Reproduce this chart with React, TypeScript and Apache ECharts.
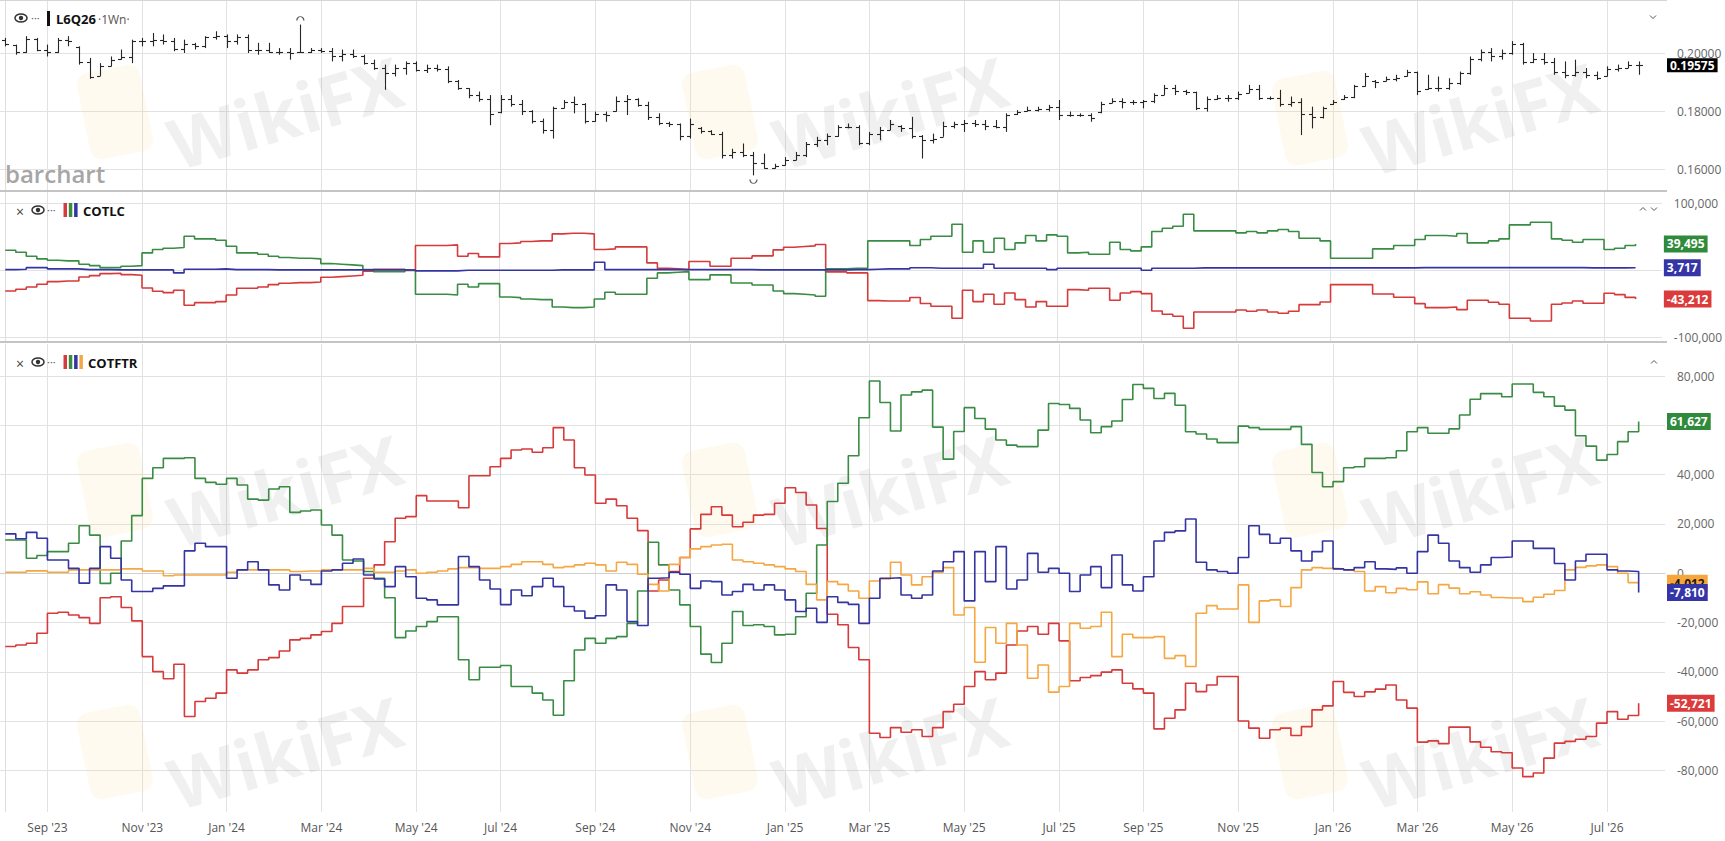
import React, { useEffect, useRef } from "react";
import * as echarts from "echarts";

const FONT = "'Open Sans', 'Noto Sans', 'DejaVu Sans', sans-serif";
const W = 1725;
const H = 841;

// ---------- categories: weekly bars (Mondays) ----------
const FIRST_WEEK = "2023-08-07";
const WEEK_COUNT = 158; // 156 bars + 2 empty weeks on the right
const MONTH_NAMES = ["Jan", "Feb", "Mar", "Apr", "May", "Jun", "Jul", "Aug", "Sep", "Oct", "Nov", "Dec"];
const weeks: string[] = Array.from({ length: WEEK_COUNT }, (_, i) => {
  const d = new Date(Date.parse(FIRST_WEEK + "T00:00:00Z") + i * 7 * 86400000);
  return d.toISOString().slice(0, 10);
});
// first week of every second month -> gridline + label
const monthTickIdx: number[] = [];
const monthTickLabel: Record<number, string> = {};
weeks.forEach((w, i) => {
  const [y, m, d] = w.split("-").map(Number);
  if (d <= 7 && (m - 1) % 2 === 0) {
    monthTickIdx.push(i);
    monthTickLabel[i] = `${MONTH_NAMES[m - 1]} '${String(y).slice(2)}`;
  }
});

// ---------- L6Q26 weekly OHLC ----------
const opens = [
  0.2045, 0.2028, 0.2002, 0.2050, 0.2012, 0.2005, 0.2046, 0.2020, 0.1970, 0.1922,
  0.1955, 0.1978, 0.1985, 0.2040, 0.2040, 0.2045, 0.2040, 0.2015, 0.2030, 0.2025,
  0.2055, 0.2060, 0.2040, 0.2055, 0.2010, 0.2010, 0.2005, 0.2005, 0.2002, 0.2005,
  0.2010, 0.2008, 0.1990, 0.1995, 0.1990, 0.1965, 0.1950, 0.1930, 0.1950, 0.1965,
  0.1940, 0.1950, 0.1945, 0.1905, 0.1878, 0.1855, 0.1840, 0.1795, 0.1840, 0.1825,
  0.1800, 0.1765, 0.1735, 0.1810, 0.1830, 0.1825, 0.1765, 0.1790, 0.1800, 0.1835,
  0.1840, 0.1820, 0.1780, 0.1760, 0.1755, 0.1715, 0.1742, 0.1730, 0.1722, 0.1650,
  0.1660, 0.1650, 0.1620, 0.1605, 0.1614, 0.1632, 0.1650, 0.1685, 0.1700, 0.1715,
  0.1745, 0.1745, 0.1690, 0.1720, 0.1735, 0.1750, 0.1740, 0.1715, 0.1700, 0.1712,
  0.1750, 0.1755, 0.1760, 0.1755, 0.1750, 0.1745, 0.1788, 0.1800, 0.1805, 0.1808,
  0.1815, 0.1785, 0.1785, 0.1785, 0.1795, 0.1828, 0.1835, 0.1830, 0.1830, 0.1835,
  0.1855, 0.1880, 0.1870, 0.1865, 0.1810, 0.1840, 0.1845, 0.1845, 0.1863, 0.1875,
  0.1845, 0.1845, 0.1825, 0.1830, 0.1790, 0.1780, 0.1823, 0.1840, 0.1850, 0.1885,
  0.1905, 0.1903, 0.1910, 0.1920, 0.1935, 0.1875, 0.1880, 0.1880, 0.1895, 0.1930,
  0.1980, 0.2005, 0.1990, 0.2000, 0.2030, 0.1970, 0.1980, 0.1970, 0.1935, 0.1925,
  0.1935, 0.1925, 0.1922, 0.1945, 0.1950, 0.1960,
];
const highs = [
  0.2052, 0.2029, 0.2058, 0.2052, 0.2029, 0.2052, 0.2058, 0.2023, 0.1983, 0.1965,
  0.1988, 0.2012, 0.2046, 0.2052, 0.2069, 0.2064, 0.2052, 0.2046, 0.2035, 0.2058,
  0.2075, 0.2064, 0.2064, 0.2064, 0.2035, 0.2035, 0.2017, 0.2017, 0.2098, 0.2017,
  0.2017, 0.2017, 0.2012, 0.2012, 0.1994, 0.1977, 0.1960, 0.1960, 0.1971, 0.1971,
  0.1960, 0.1960, 0.1954, 0.1907, 0.1879, 0.1867, 0.1855, 0.1855, 0.1855, 0.1838,
  0.1803, 0.1774, 0.1815, 0.1838, 0.1850, 0.1827, 0.1798, 0.1798, 0.1850, 0.1855,
  0.1844, 0.1832, 0.1792, 0.1763, 0.1757, 0.1774, 0.1745, 0.1734, 0.1728, 0.1670,
  0.1688, 0.1659, 0.1653, 0.1618, 0.1641, 0.1659, 0.1693, 0.1711, 0.1722, 0.1751,
  0.1757, 0.1751, 0.1728, 0.1745, 0.1769, 0.1751, 0.1780, 0.1717, 0.1722, 0.1763,
  0.1763, 0.1769, 0.1769, 0.1769, 0.1769, 0.1792, 0.1803, 0.1815, 0.1815, 0.1821,
  0.1838, 0.1798, 0.1792, 0.1792, 0.1832, 0.1844, 0.1844, 0.1838, 0.1838, 0.1861,
  0.1890, 0.1890, 0.1873, 0.1867, 0.1850, 0.1855, 0.1855, 0.1867, 0.1890, 0.1890,
  0.1850, 0.1873, 0.1850, 0.1844, 0.1815, 0.1815, 0.1838, 0.1855, 0.1890, 0.1931,
  0.1907, 0.1919, 0.1925, 0.1942, 0.1936, 0.1925, 0.1919, 0.1913, 0.1936, 0.1988,
  0.2012, 0.2017, 0.2012, 0.2041, 0.2035, 0.2000, 0.2000, 0.1983, 0.1971, 0.1977,
  0.1948, 0.1936, 0.1954, 0.1960, 0.1971, 0.1971,
];
const lows = [
  0.2023, 0.1994, 0.2000, 0.2006, 0.1988, 0.2000, 0.2023, 0.1960, 0.1911, 0.1921,
  0.1954, 0.1977, 0.1965, 0.2023, 0.2023, 0.2029, 0.2006, 0.2000, 0.2012, 0.2017,
  0.2046, 0.2017, 0.2029, 0.2000, 0.1994, 0.2000, 0.1994, 0.1977, 0.2000, 0.2000,
  0.2000, 0.1971, 0.1971, 0.1983, 0.1960, 0.1942, 0.1873, 0.1919, 0.1925, 0.1936,
  0.1931, 0.1936, 0.1896, 0.1873, 0.1844, 0.1832, 0.1751, 0.1792, 0.1815, 0.1786,
  0.1757, 0.1722, 0.1705, 0.1809, 0.1792, 0.1757, 0.1763, 0.1763, 0.1798, 0.1786,
  0.1815, 0.1769, 0.1751, 0.1745, 0.1699, 0.1705, 0.1722, 0.1717, 0.1636, 0.1636,
  0.1641, 0.1578, 0.1601, 0.1601, 0.1612, 0.1630, 0.1641, 0.1676, 0.1682, 0.1711,
  0.1740, 0.1682, 0.1682, 0.1699, 0.1734, 0.1728, 0.1705, 0.1636, 0.1688, 0.1711,
  0.1740, 0.1728, 0.1745, 0.1734, 0.1740, 0.1728, 0.1786, 0.1798, 0.1798, 0.1798,
  0.1769, 0.1780, 0.1780, 0.1763, 0.1792, 0.1827, 0.1809, 0.1821, 0.1809, 0.1827,
  0.1855, 0.1855, 0.1855, 0.1803, 0.1798, 0.1838, 0.1832, 0.1838, 0.1861, 0.1838,
  0.1838, 0.1815, 0.1815, 0.1717, 0.1740, 0.1774, 0.1821, 0.1838, 0.1844, 0.1884,
  0.1879, 0.1902, 0.1902, 0.1919, 0.1855, 0.1873, 0.1867, 0.1873, 0.1890, 0.1925,
  0.1971, 0.1971, 0.1977, 0.1994, 0.1960, 0.1965, 0.1960, 0.1925, 0.1913, 0.1919,
  0.1913, 0.1907, 0.1919, 0.1936, 0.1948, 0.1925,
];
const closes = [
  0.2030, 0.2002, 0.2050, 0.2012, 0.2005, 0.2046, 0.2040, 0.1970, 0.1918, 0.1955,
  0.1975, 0.1985, 0.2040, 0.2040, 0.2045, 0.2040, 0.2015, 0.2030, 0.2025, 0.2055,
  0.2060, 0.2040, 0.2055, 0.2010, 0.2010, 0.2005, 0.2005, 0.2000, 0.2005, 0.2010,
  0.2008, 0.1990, 0.1995, 0.1990, 0.1965, 0.1950, 0.1930, 0.1950, 0.1965, 0.1940,
  0.1950, 0.1945, 0.1905, 0.1880, 0.1855, 0.1840, 0.1790, 0.1840, 0.1825, 0.1800,
  0.1765, 0.1735, 0.1810, 0.1830, 0.1825, 0.1765, 0.1790, 0.1785, 0.1835, 0.1840,
  0.1820, 0.1780, 0.1760, 0.1755, 0.1715, 0.1755, 0.1730, 0.1722, 0.1650, 0.1660,
  0.1650, 0.1620, 0.1605, 0.1612, 0.1630, 0.1650, 0.1685, 0.1700, 0.1715, 0.1745,
  0.1745, 0.1690, 0.1720, 0.1735, 0.1755, 0.1740, 0.1715, 0.1700, 0.1705, 0.1750,
  0.1755, 0.1760, 0.1755, 0.1750, 0.1745, 0.1785, 0.1795, 0.1805, 0.1808, 0.1815,
  0.1785, 0.1785, 0.1785, 0.1775, 0.1825, 0.1835, 0.1830, 0.1830, 0.1835, 0.1855,
  0.1880, 0.1870, 0.1865, 0.1810, 0.1840, 0.1845, 0.1845, 0.1860, 0.1875, 0.1845,
  0.1845, 0.1825, 0.1830, 0.1790, 0.1780, 0.1810, 0.1830, 0.1850, 0.1885, 0.1920,
  0.1900, 0.1910, 0.1915, 0.1935, 0.1870, 0.1880, 0.1880, 0.1895, 0.1930, 0.1980,
  0.2005, 0.1990, 0.2000, 0.2030, 0.1970, 0.1980, 0.1970, 0.1935, 0.1925, 0.1935,
  0.1925, 0.1915, 0.1945, 0.1950, 0.1960, 0.19575,
];
const priceTicks = [0.16, 0.18, 0.2];

// ---------- COTLC (net positions, thousands of contracts) ----------
const cotlcGreen = [
  30, 27, 21, 17, 15, 14, 14, 9, 7, 4,
  4, 6, 7, 26, 31, 33, 34, 51, 47, 47,
  45, 36, 26, 26, 24, 21, 19, 18, 18, 17,
  10, 9, 8, 7, 1, -2, -2, -2, 0, -36,
  -36, -36, -37, -21, -25, -20, -20, -40, -41, -43,
  -44, -44, -55, -56, -56, -55, -43, -33, -36, -36,
  -36, -12, -4, -3, -2, -14, -14, -7, -7, -19,
  -19, -22, -22, -31, -35, -36, -37, -39, 2, 2,
  3, 3, 44, 44, 44, 44, 37, 46, 51, 51,
  69, 27, 44, 27, 48, 31, 41, 52, 44, 53,
  51, 26, 27, 24, 24, 42, 31, 29, 35, 58,
  63, 66, 84, 59, 59, 59, 59, 56, 58, 56,
  59, 61, 58, 48, 48, 44, 18, 18, 18, 18,
  32, 32, 37, 37, 46, 52, 52, 51, 55, 41,
  41, 44, 47, 68, 68, 72, 72, 47, 45, 42,
  46, 46, 31, 33, 37, 39.495,
];
const cotlcBlue = [
  1, 1.5, 4, 4, 2, 2, 2, 1, 1, 1,
  0.5, 0.5, 0.5, 0.5, 0.5, 0.5, -4, 1.5, 1.5, 1.5,
  2, 1, 1, 1, 1, 0.5, 0.5, 0.5, 0.5, 0.5,
  0.5, 0.5, 0.5, 0.5, 0.5, 0.5, 0.5, 0.5, 0.3, -1,
  -1, -1, -1, 0, 0, 0, 0, 0, 0, 0,
  0, 0, 0.5, 0.5, 0.5, 0.5, 12, 1, 1, 1,
  1, 1, 1, 1, 1, 1, 1, 1, 1, 1,
  1, 0.5, 0.5, 0.5, 0.5, 0.5, 0.5, 0.5, 0.5, 0.5,
  1, 1, 1.5, 2, 2, 2, 3.8, 3.8, 3, 3,
  3, 3, 3, 9, 3, 3, 3, 3, 3, 1,
  3, 3, 3, 3, 3, 3, 3, 3, 0, 3,
  3, 3, 3, 3.5, 3.5, 3.5, 3.5, 3.5, 3.5, 3.5,
  3.5, 3.5, 3.5, 3.5, 3.5, 3.5, 3.5, 3.5, 3.5, 3.5,
  3.5, 3.5, 3.5, 3.5, 4, 4, 4, 4, 4, 4,
  4, 4, 4, 4, 4, 4, 4, 4, 4, 4,
  3.5, 3.5, 3.5, 3.5, 3.7, 3.717,
];
const cotlcRed = [
  -31, -28.5, -25, -21, -17, -16, -16, -10, -8, -5,
  -4.5, -6.5, -7.5, -26.5, -31.5, -33.5, -30, -52.5, -48.5, -48.5,
  -47, -37, -27, -27, -25, -21.5, -19.5, -18.5, -18.5, -17.5,
  -10.5, -9.5, -8.5, -7.5, -1.5, 1.5, 1.5, 1.5, -0.3, 37,
  37, 37, 38, 21, 25, 20, 20, 40, 41, 43,
  44, 44, 54.5, 55.5, 55.5, 54.5, 31, 32, 35, 35,
  35, 11, 3, 2, 1, 13, 13, 6, 6, 18,
  18, 21.5, 21.5, 30.5, 34.5, 35.5, 36.5, 38.5, -2.5, -2.5,
  -4, -4, -45.5, -46, -46, -46, -40.8, -49.8, -54, -54,
  -72, -30, -47, -36, -51, -34, -44, -55, -47, -54,
  -54, -29, -30, -27, -27, -45, -34, -32, -35, -61,
  -66, -69, -87, -62.5, -62.5, -62.5, -62.5, -59.5, -61.5, -59.5,
  -62.5, -64.5, -61.5, -51.5, -51.5, -47.5, -21.5, -21.5, -21.5, -21.5,
  -35.5, -35.5, -40.5, -40.5, -50, -56, -56, -55, -59, -45,
  -45, -48, -51, -72, -72, -76, -76, -51, -49, -46,
  -49.5, -49.5, -34.5, -36.5, -40.7, -43.212,
];
const cotlcTicks = [-100000, 0, 100000];
const cotlcLabels = [-100000, 100000];

// ---------- COTFTR (net positions, thousands of contracts) ----------
const ftrRed = [
  -29.7, -29.1, -28.4, -24.3, -16.2, -15.8, -16.9, -18, -20.3, -9.9,
  -9.5, -13.9, -19.3, -33.8, -39.9, -42.8, -36.9, -58.1, -52, -50.7,
  -48.6, -39.2, -40.5, -39.2, -35.1, -34.2, -31.5, -27, -26.4, -25,
  -23.6, -20.3, -13.5, -13.5, -2, 3.4, 12.8, 22.3, 23, 31.5,
  29.3, 29.3, 29.3, 26.6, 39.6, 39.6, 43.2, 46.6, 50, 50.4,
  49.1, 50.9, 59.1, 54.1, 42.8, 39.9, 28.4, 30.1, 27.4, 22.3,
  17.3, -7.2, -2.7, 0.7, 6.4, 18, 23.9, 27, 23.6, 18.9,
  20.7, 23.6, 23.9, 28.4, 34.7, 32.8, 27.7, 18.2, -16.6, -20.9,
  -30.1, -35.1, -64.9, -66.6, -62.6, -64.5, -63.5, -66.2, -62.6, -56.1,
  -53.1, -45.9, -39.9, -43.2, -40.5, -29.1, -23.4, -21.6, -24.7, -20.3,
  -27.4, -43.6, -42.3, -41.5, -40.1, -39.2, -44.6, -46.9, -48.6, -63.1,
  -58.8, -55.4, -44.6, -48, -45.3, -41.9, -41.9, -59.9, -62.8, -66.9,
  -63.5, -62.8, -65.8, -62.2, -55.4, -53.8, -43.9, -48.3, -50, -48.1,
  -47, -45.3, -51.4, -54.7, -68.5, -68, -69.1, -62.4, -62.4, -68.4,
  -70.6, -72.4, -72.8, -79, -82.5, -81, -75, -68.9, -68.2, -67.3,
  -66.2, -60.8, -56.1, -59.2, -57.7, -52.721,
];
const ftrGreen = [
  13.5, 13.5, 6.1, 7.2, 8.8, 8.8, 12.2, 19.3, 15.5, -4.1,
  0, 13.1, 23.4, 38.5, 42.8, 46.6, 46.6, 46.9, 38.5, 36.9,
  36.1, 38.5, 35.8, 30.1, 29.7, 34.2, 35.1, 24.7, 25.3, 25.7,
  19.6, 15.5, 5.4, 5, 0.7, -2, -9.9, -26.1, -23.4, -21.6,
  -19.6, -17.6, -17.6, -35.1, -43.2, -38.1, -38.1, -37.4, -45.9, -45.9,
  -48.6, -51.4, -57.6, -43.6, -31.1, -26.4, -28.4, -26.4, -25.7, -20.3,
  -7.2, 12.6, 3.4, -6.8, -12.8, -21.6, -32.8, -36.2, -28.4, -15.5,
  -21.2, -20.9, -21.6, -25, -24.7, -17.6, -8.1, 11.5, 29.1, 36.5,
  47.7, 63.1, 78, 69.3, 57.7, 72.3, 73.6, 74.3, 59.3, 46.3,
  57.5, 67.2, 62.8, 58.5, 54.1, 52, 51.4, 51.4, 58.1, 68.9,
  68.5, 66.9, 62.2, 57, 59.5, 61.8, 70.5, 76.6, 75, 70.9,
  73, 68.2, 57.4, 56.5, 54.5, 53, 53, 59.7, 59.1, 58.4,
  58.4, 58.4, 59.5, 52.3, 40.9, 35.1, 37.2, 42.8, 43.2, 46.6,
  46.6, 46.9, 49.7, 57.4, 59.1, 56.8, 56.8, 58.6, 64.2, 70.6,
  72.9, 72.9, 71.6, 76.8, 76.8, 73.4, 71.6, 67.8, 66.2, 55.8,
  51.6, 45.9, 48.2, 53.4, 57.4, 61.627,
];
const ftrBlue = [
  16, 14, 16.6, 14.2, 5.4, 5.4, 2, -4, 2, 10.8,
  6.1, -2.7, -7.4, -7.4, -6.1, -5.1, -5.1, 9.1, 12.2, 10.8,
  10.8, -2, 1.4, 4.7, 1.4, -4.7, -6.8, -0.7, -2.7, -4.5,
  0.9, 1.4, 4.1, 5.8, -0.7, -2.3, -5.4, 2.7, -1.4, -10.1,
  -10.8, -12.8, -12.8, 6.8, 2.7, -2.7, -6.4, -12.7, -6.8, -9.1,
  -5.4, -2, -5.4, -13.5, -15.3, -18.2, -17.2, -4.7, -6.8, -19.6,
  -21.2, -2, -1.8, 0.4, -0.4, -6.1, -3.1, -3.4, -8.8, -7.4,
  -4.5, -6.8, -4.7, -6.8, -10.8, -15.5, -14.2, -19.9, -9.5, -11.8,
  -12.6, -20.3, -10.1, -2, -1.8, -8.8, -10.1, -8.8, 0.9, 4.7,
  8.8, -11.2, 8.8, -3.4, 10.8, -6.4, -2.7, 8.1, 0.4, 2,
  0, -7.4, -0.7, 2.7, -5.8, 7.4, -4.7, -7.2, -1.4, 13.1,
  16.6, 17.2, 22, 4.5, 1.4, 0.7, 0, 6.4, 19.3, 15.8,
  12.2, 14.2, 9.1, 5, 8.8, 13.1, 1.8, 1.4, 2.3, 4.7,
  1.8, 1.6, 2.2, 0, 8.8, 15.5, 12.2, 5, 2.3, 0.4,
  3.4, 6.4, 6.6, 13.1, 13.1, 10.1, 10.1, 4, -2.7, 5,
  7.7, 7.7, 1.4, 0.9, 0.7, -7.81,
];
const ftrOrange = [
  0.4, 0.4, 1, 1, 0.4, 0.4, 1.4, 1.4, 1.4, 1.4,
  1.4, 1.8, 1.8, 0.9, 0.9, -1, -0.7, -0.7, -0.7, -0.7,
  -0.7, 0.4, 1.4, 1.4, 1.4, 1.4, 1.4, 0.7, 0.9, 0.9,
  1.4, 1.4, 1.4, 1.4, 2, 0.4, 0.4, 0.9, 1.4, 0,
  0.4, 0.9, 1.8, 2.3, 2.3, 2, 2, 2.7, 3.6, 4.7,
  4.7, 3.6, 2.3, 2.7, 3.4, 4.1, 3.4, 0.9, 4.5, 3.6,
  -0.4, -4.5, -7.2, 3.6, 6.4, 9.9, 10.8, 11.5, 11.8, 5.4,
  4.7, 4.1, 3.4, 2.7, 1.8, 0.7, -4.5, -10.8, -3.4, -4.5,
  -7.2, -10.1, -3.1, -2.3, 4.5, -0.7, -4.7, -1.4, 0.4, 2.3,
  -16.9, -13.9, -36.1, -22, -28.4, -20.3, -29.1, -42.6, -37.2, -48.2,
  -45.9, -20.3, -22.3, -21.6, -15.8, -33.8, -24.7, -26.1, -26.1, -25.7,
  -34.5, -33.4, -37.8, -16.2, -13.1, -14.5, -14.5, -4.7, -19.9, -11.2,
  -10.8, -13.5, -5.8, 1.4, 2.3, 2, 1.8, 1.4, 0.7, -7.2,
  -5.4, -7.9, -6.1, -6.7, -3.5, -8.3, -4.6, -6, -8.3, -7.5,
  -8.8, -9.8, -10, -10, -11.5, -9.7, -8.5, -7, 1.4, 2.4,
  3, 3.4, 2.7, 0, -3.8, -4.012,
];
const ftrTicks = [-80000, -60000, -40000, -20000, 0, 20000, 40000, 60000, 80000];
// the 60,000 label sits under the Asset-Manager value tag in the reference
const ftrLabels = [-80000, -60000, -40000, -20000, 0, 20000, 40000, 80000];

// ---------- colours ----------
const C_GREEN = "#3a8c44";
const C_RED = "#d63a3a";
const C_BLUE = "#3434a2";
const C_ORANGE = "#f5a742";
const TAG_GREEN = "#2f8a3b";
const TAG_RED = "#dc3b3b";
const TAG_BLUE = "#3535a8";
const TAG_ORANGE = "#f7a63c";
const GRID_LINE = "#e2e2e2";

// ---------- panel geometry ----------
const PLOT_RIGHT = 60;
const PRICE_MIN = 0.152759;
const PRICE_MAX = 0.218276;
const LC_MIN = -105990;
const LC_MAX = 117230;
const FTR_MIN = -96840;
const FTR_MAX = 93020;

const fmtNum = (v: number) => Math.round(v).toLocaleString("en-US");
const toPairs = (arr: number[]) => arr.map((v, i) => [i, Math.round(v * 1000)]);
const lastK = (arr: number[]) => Math.round(arr[arr.length - 1] * 1000);

function endTag(value: number, bg: string, fg: string, text: string, compact = false) {
  return {
    symbol: "rect",
    symbolSize: 1,
    silent: true,
    itemStyle: { color: "rgba(0,0,0,0)" },
    label: {
      show: true,
      position: "right",
      distance: 1.5,
      formatter: text,
      backgroundColor: bg,
      color: fg,
      fontWeight: "bold",
      fontSize: 12,
      fontFamily: FONT,
      padding: compact ? [2, 3, 1, 3] : [3, 3, 2, 3],
      lineHeight: compact ? 11 : 12,
    },
    data: [{ coord: [WEEK_COUNT - 0.5, value] }],
  };
}

function xAxisFor(gridIndex: number, withLabels: boolean) {
  return {
    type: "value",
    gridIndex,
    min: -0.5,
    max: WEEK_COUNT - 0.5,
    axisLine: { show: withLabels, lineStyle: { color: "#cfcfcf" } },
    axisTick: { show: false, customValues: monthTickIdx },
    axisLabel: withLabels
      ? {
          show: true,
          customValues: monthTickIdx,
          formatter: (v: number) => monthTickLabel[Math.round(v)] || "",
          color: "#555",
          fontSize: 12,
          fontFamily: FONT,
          margin: 9,
        }
      : { show: false },
    splitLine: { show: true, lineStyle: { color: GRID_LINE, width: 1 } },
  };
}

function yAxisFor(gridIndex: number, min: number, max: number, ticks: number[], labels: number[], fmt: (v: number) => string) {
  return {
    type: "value",
    gridIndex,
    position: "right",
    min,
    max,
    offset: 2,
    axisLine: { show: true, lineStyle: { color: "#dedede" } },
    axisTick: { show: false, customValues: ticks },
    axisLabel: { customValues: labels, formatter: fmt, color: "#666", fontSize: 12, lineHeight: 11, fontFamily: FONT, margin: 10 },
    splitLine: { show: true, lineStyle: { color: GRID_LINE, width: 1 } },
  };
}

function stepLine(name: string, arr: number[], color: string, axis: number, tag: any) {
  return {
    name,
    type: "line",
    xAxisIndex: axis,
    yAxisIndex: axis,
    data: toPairs(arr),
    step: "end",
    symbol: "none",
    showSymbol: false,
    clip: false,
    lineStyle: { color, width: 1.6 },
    itemStyle: { color },
    markPoint: tag,
  };
}

// ---------- decorations ----------
function txt(x: number, y: number, text: string, o: any = {}) {
  return {
    type: "text",
    x,
    y,
    z: 30,
    silent: true,
    style: {
      text,
      fill: o.fill || "#222",
      fontSize: o.size || 13,
      fontWeight: o.weight || "normal",
      fontFamily: FONT,
      textAlign: o.align || "left",
      textVerticalAlign: "middle",
      verticalAlign: "middle",
    },
  };
}
function eye(cx: number, cy: number) {
  return [
    { type: "ellipse", z: 30, silent: true, shape: { cx, cy, rx: 6, ry: 4 }, style: { fill: "#fff", stroke: "#333", lineWidth: 1.5 } },
    { type: "circle", z: 31, silent: true, shape: { cx, cy, r: 2.2 }, style: { fill: "#333" } },
  ];
}
function chevron(cx: number, cy: number, up: boolean) {
  const d = up ? -1 : 1;
  return {
    type: "polyline",
    z: 30,
    silent: true,
    shape: { points: [[cx - 3, cy - 1.5 * d], [cx, cy + 1.5 * d], [cx + 3, cy - 1.5 * d]] },
    style: { stroke: "#555", fill: "none", lineWidth: 1 },
  };
}
function bar(x: number, y: number, color: string, w = 3.5, h = 14) {
  return { type: "rect", z: 30, silent: true, shape: { x, y, width: w, height: h }, style: { fill: color } };
}
const watermarkSpots = [
  [285, 112], [890, 112], [1480, 118],
  [285, 490], [890, 490], [1480, 490],
  [285, 752], [890, 752], [1480, 752],
];
function watermark(cx: number, cy: number) {
  return [
    {
      type: "rect", z: 1, silent: true, x: cx - 170, y: cy, rotation: 0.2,
      shape: { x: -32, y: -44, width: 64, height: 88, r: 12 },
      style: { fill: "rgba(250,205,110,0.11)" },
    },
    {
      type: "text", z: 1, silent: true, x: cx, y: cy, rotation: 0.28,
      style: {
        text: "WikiFX", fill: "rgba(130,130,130,0.12)", fontSize: 70, fontWeight: "bold",
        fontFamily: FONT, textAlign: "center", textVerticalAlign: "middle", verticalAlign: "middle",
      },
    },
  ];
}

function buildOption() {
  const ohlc = opens.map((o, i) => [i, o, highs[i], lows[i], closes[i]]);
  const graphic: any[] = [];
  watermarkSpots.forEach(([x, y]) => graphic.push(...watermark(x, y)));
  graphic.push(
    { type: "rect", z: 25, silent: true, shape: { x: 0, y: 0, width: W - PLOT_RIGHT + 2, height: 1 }, style: { fill: "#d6d6d6" } },
    { type: "rect", z: 25, silent: true, shape: { x: 0, y: 190, width: W - PLOT_RIGHT + 2, height: 2 }, style: { fill: "#c4c4c4" } },
    { type: "rect", z: 25, silent: true, shape: { x: 0, y: 341, width: W - PLOT_RIGHT + 2, height: 2 }, style: { fill: "#c4c4c4" } },
    // top header
    ...eye(21, 18),
    txt(31, 17, "···", { size: 11, fill: "#555" }),
    bar(47, 11, "#111", 3, 15),
    txt(56, 19, "L6Q26", { weight: "bold", size: 13, fill: "#111" }),
    txt(98, 19, "·1Wn·", { size: 12, fill: "#555" }),
    chevron(1653, 17, false),
    txt(5, 173, "barchart", { size: 24, weight: 600, fill: "#a6a6a6" }),
    // COTLC header
    txt(16, 211, "×", { size: 14, fill: "#444" }),
    ...eye(38, 210),
    txt(47, 209, "···", { size: 11, fill: "#555" }),
    bar(63.5, 203, C_RED),
    bar(68.8, 203, C_GREEN),
    bar(74.1, 203, C_BLUE),
    txt(83, 211, "COTLC", { weight: "bold", size: 13, fill: "#111" }),
    chevron(1643, 209, true),
    chevron(1654, 209, false),
    // COTFTR header
    txt(16, 363, "×", { size: 14, fill: "#444" }),
    ...eye(38, 362),
    txt(47, 361, "···", { size: 11, fill: "#555" }),
    bar(63.5, 355, C_RED),
    bar(68.8, 355, C_GREEN),
    bar(74.1, 355, C_BLUE),
    bar(79.4, 355, C_ORANGE),
    txt(88, 363, "COTFTR", { weight: "bold", size: 13, fill: "#111" }),
    chevron(1654, 362, true)
  );

  return {
    animation: false,
    backgroundColor: "#ffffff",
    textStyle: { fontFamily: FONT },
    grid: [
      { left: 0, right: PLOT_RIGHT, top: 0, height: 190 },
      { left: 0, right: PLOT_RIGHT, top: 192, height: 149 },
      { left: 0, right: PLOT_RIGHT, top: 344, height: 468 },
    ],
    xAxis: [xAxisFor(0, false), xAxisFor(1, false), xAxisFor(2, true)],
    yAxis: [
      yAxisFor(0, PRICE_MIN, PRICE_MAX, priceTicks, priceTicks, (v) => v.toFixed(5)),
      yAxisFor(1, LC_MIN, LC_MAX, cotlcTicks, cotlcLabels, fmtNum),
      yAxisFor(2, FTR_MIN, FTR_MAX, ftrTicks, ftrLabels, fmtNum),
    ],
    series: [
      {
        name: "L6Q26",
        type: "custom",
        xAxisIndex: 0,
        yAxisIndex: 0,
        clip: false,
        data: ohlc,
        encode: { x: 0, y: [1, 2, 3, 4] },
        renderItem: (_p: any, api: any) => {
          const i = api.value(0);
          const pO = api.coord([i, api.value(1)]);
          const pH = api.coord([i, api.value(2)]);
          const pL = api.coord([i, api.value(3)]);
          const pC = api.coord([i, api.value(4)]);
          const x = Math.round(pH[0]) + 0.5;
          const t = 3.5;
          const st = { stroke: "#262626", lineWidth: 1.1 };
          return {
            type: "group",
            children: [
              { type: "line", shape: { x1: x, y1: pH[1], x2: x, y2: pL[1] }, style: st },
              { type: "line", shape: { x1: x - t, y1: Math.round(pO[1]) + 0.5, x2: x, y2: Math.round(pO[1]) + 0.5 }, style: st },
              { type: "line", shape: { x1: x, y1: Math.round(pC[1]) + 0.5, x2: x + t, y2: Math.round(pC[1]) + 0.5 }, style: st },
            ],
          };
        },
      },
      {
        name: "hilo",
        type: "scatter",
        xAxisIndex: 0,
        yAxisIndex: 0,
        clip: false,
        silent: true,
        symbolSize: [7, 4],
        itemStyle: { color: "rgba(0,0,0,0)", borderColor: "#333", borderWidth: 1 },
        data: [
          { value: [28, highs[28]], symbol: "path://M0,10 A10,10 0 0 1 20,10", symbolOffset: [0, -6] },
          { value: [71, lows[71]], symbol: "path://M0,0 A10,10 0 0 0 20,0", symbolOffset: [0, 6] },
        ],
        markPoint: endTag(closes[closes.length - 1], "#000", "#fff", closes[closes.length - 1].toFixed(5), true),
      },
      stepLine("COTLC Commercials", cotlcRed, C_RED, 1, endTag(lastK(cotlcRed), TAG_RED, "#fff", fmtNum(lastK(cotlcRed)))),
      stepLine("COTLC Non-Commercials", cotlcGreen, C_GREEN, 1, endTag(lastK(cotlcGreen), TAG_GREEN, "#fff", fmtNum(lastK(cotlcGreen)))),
      stepLine("COTLC Non-Reportables", cotlcBlue, C_BLUE, 1, endTag(lastK(cotlcBlue), TAG_BLUE, "#fff", fmtNum(lastK(cotlcBlue)))),
      stepLine("COTFTR Dealer", ftrRed, C_RED, 2, endTag(lastK(ftrRed), TAG_RED, "#fff", fmtNum(lastK(ftrRed)))),
      stepLine("COTFTR Asset Manager", ftrGreen, C_GREEN, 2, endTag(lastK(ftrGreen), TAG_GREEN, "#fff", fmtNum(lastK(ftrGreen)))),
      stepLine("COTFTR Other", ftrOrange, C_ORANGE, 2, endTag(lastK(ftrOrange), TAG_ORANGE, "#1a1a1a", fmtNum(lastK(ftrOrange)))),
      stepLine("COTFTR Leveraged", ftrBlue, C_BLUE, 2, endTag(lastK(ftrBlue), TAG_BLUE, "#fff", fmtNum(lastK(ftrBlue)))),
    ],
    graphic,
  };
}

export default function App() {
  const ref = useRef<HTMLDivElement>(null);
  useEffect(() => {
    document.body.style.margin = "0";
    const chart = echarts.init(ref.current as HTMLDivElement, null, { renderer: "svg" });
    chart.setOption(buildOption() as any);
    return () => chart.dispose();
  }, []);
  return <div ref={ref} style={{ width: W, height: H, background: "#fff" }} />;
}
